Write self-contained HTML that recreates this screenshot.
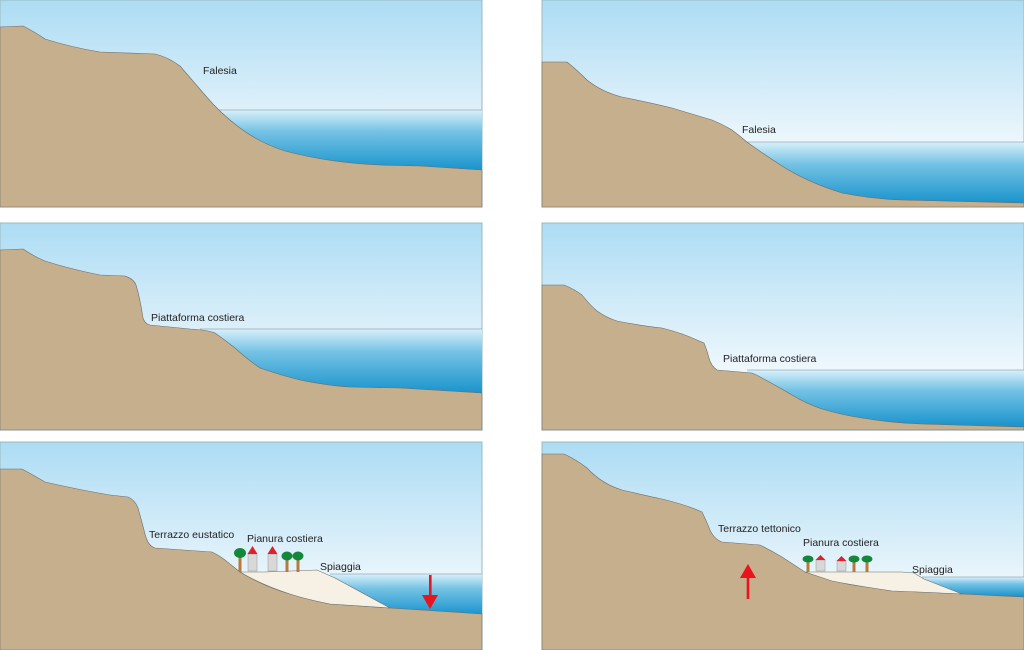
<!DOCTYPE html>
<html><head><meta charset="utf-8"><style>
html,body{margin:0;padding:0;background:#fff;width:1024px;height:650px;overflow:hidden}
svg{display:block}
text{font-family:"Liberation Sans",sans-serif;font-size:10.5px;fill:#222}
</style></head><body>
<svg width="1024" height="650" viewBox="0 0 1024 650" xmlns="http://www.w3.org/2000/svg">
<defs>
<linearGradient id="sky" x1="0" y1="0" x2="0" y2="1">
<stop offset="0" stop-color="#acdcf4"/><stop offset="0.7" stop-color="#eef7fc"/><stop offset="1" stop-color="#ffffff"/></linearGradient>
<linearGradient id="sea" x1="0" y1="0" x2="0" y2="1">
<stop offset="0" stop-color="#d8f0fa"/><stop offset="0.35" stop-color="#74c2e4"/><stop offset="1" stop-color="#1592cc"/></linearGradient>
</defs>
<g id="p1">
<rect x="0" y="0" width="482" height="207" fill="url(#sky)" stroke="#9bb" stroke-width="1"/>
<rect x="205" y="110" width="277" height="62" fill="url(#sea)"/>
<line x1="205" y1="110" x2="482" y2="110" stroke="#789" stroke-width="0.6"/>
<path d="M0,27 L23,26 Q35,32 45,39 Q70,47 100,52 L155,54 Q168,57 180,66 Q192,80 205,95 Q220,113 240,128 Q260,143 285,151 Q330,163 380,165 L420,166 L482,170 L482,207 L0,207Z" fill="#c5af8c" stroke="#6d6d6d" stroke-width="0.6"/>
<text x="203" y="74">Falesia</text>
</g>
<g transform="translate(542,0)">
<rect x="0" y="0" width="482" height="207" fill="url(#sky)" stroke="#9bb" stroke-width="1"/>
<rect x="200" y="142" width="282" height="63" fill="url(#sea)"/>
<line x1="200" y1="142" x2="482" y2="142" stroke="#789" stroke-width="0.6"/>
<path d="M0,62 L25,62 Q35,70 45,80 Q60,92 80,97 Q110,103 130,108 L170,120 Q180,124 190,130 Q198,136 205,142 Q220,153 240,166 Q265,182 300,193 Q330,199 360,200 L482,203 L482,207 L0,207Z" fill="#c5af8c" stroke="#6d6d6d" stroke-width="0.6"/>
<text x="200" y="133">Falesia</text>
</g>
<g transform="translate(0,223)">
<rect x="0" y="0" width="482" height="207" fill="url(#sky)" stroke="#9bb" stroke-width="1"/>
<rect x="200" y="106" width="282" height="66" fill="url(#sea)"/>
<line x1="200" y1="106" x2="482" y2="106" stroke="#789" stroke-width="0.6"/>
<path d="M0,27 L23,26 Q35,34 45,38 Q70,46 100,52 L125,53 Q134,56 136,62 Q140,75 143,95 Q145,101 150,102 L190,106 Q208,107 215,110 Q225,117 235,125 Q248,137 260,145 Q280,152 300,157 Q330,163 350,164 L400,165 L482,170 L482,207 L0,207Z" fill="#c5af8c" stroke="#6d6d6d" stroke-width="0.6"/>
<text x="151" y="98">Piattaforma costiera</text>
</g>
<g transform="translate(542,223)">
<rect x="0" y="0" width="482" height="207" fill="url(#sky)" stroke="#9bb" stroke-width="1"/>
<rect x="205" y="147" width="277" height="58" fill="url(#sea)"/>
<line x1="205" y1="147" x2="482" y2="147" stroke="#789" stroke-width="0.6"/>
<path d="M0,62 L22,62 Q32,66 40,72 Q48,82 55,88 Q65,95 75,98 Q100,103 120,105 Q140,110 155,117 L162,120 Q165,127 167,135 Q169,143 175,147 L210,150 Q215,152 220,155 Q235,163 250,172 Q265,181 280,186 Q300,192 320,195 Q350,200 380,201 L482,204 L482,207 L0,207Z" fill="#c5af8c" stroke="#6d6d6d" stroke-width="0.6"/>
<text x="181" y="139">Piattaforma costiera</text>
</g>
<g transform="translate(0,442)">
<rect x="0" y="0" width="482" height="208" fill="url(#sky)" stroke="#9bb" stroke-width="1"/>
<rect x="330" y="132" width="152" height="42" fill="url(#sea)"/>
<line x1="330" y1="132" x2="482" y2="132" stroke="#789" stroke-width="0.6"/>
<path d="M0,27 L22,27 Q35,34 45,40 Q80,48 110,53 L128,55 Q135,58 138,66 Q142,80 145,92 Q148,104 155,106 L212,110 Q220,114 225,118 L240,130 Q265,145 290,152 Q310,158 330,162 L390,166 L482,172 L482,208 L0,208Z" fill="#c5af8c" stroke="#6d6d6d" stroke-width="0.6"/>
<path d="M240,130 L265,130 L317,128 L335,136 L390,166 L330,162 Q305,157 290,152 Q262,143 240,130Z" fill="#f6f1e4" stroke="#6d6d6d" stroke-width="0.6"/>
<g fill="#b77a3a"><rect x="238.5" y="115" width="3" height="15"/><rect x="285.5" y="117" width="3" height="13"/><rect x="296.5" y="117" width="3" height="13"/></g>
<g fill="#13883a"><ellipse cx="240" cy="111" rx="6" ry="5"/><ellipse cx="287" cy="114" rx="5.5" ry="4.5"/><ellipse cx="298" cy="114" rx="5.5" ry="4.5"/></g>
<g fill="#d8d8d8" stroke="#999" stroke-width="0.5"><rect x="248" y="112" width="9" height="17"/><rect x="268" y="112" width="9" height="17"/></g>
<g fill="#e0202a"><polygon points="247.5,112 252.5,104 257.5,112"/><polygon points="267.5,112 272.5,104 277.5,112"/></g>
<text x="149" y="96">Terrazzo eustatico</text>
<text x="247" y="100">Pianura costiera</text>
<text x="320" y="128">Spiaggia</text>
<rect x="429" y="133" width="2.6" height="22" fill="#e8141e"/>
<polygon points="422,153 438,153 430,167" fill="#e8141e"/>
</g>
<g transform="translate(542,442)">
<rect x="0" y="0" width="482" height="208" fill="url(#sky)" stroke="#9bb" stroke-width="1"/>
<rect x="380" y="135" width="102" height="20" fill="url(#sea)"/>
<line x1="380" y1="135" x2="482" y2="135" stroke="#789" stroke-width="0.6"/>
<path d="M0,12 L22,12 Q35,18 45,26 Q60,42 80,48 Q110,55 120,57 Q145,63 160,70 Q164,78 168,88 Q172,97 180,100 L218,103 Q230,109 240,115 L263,130 Q290,139 310,143 Q350,149 380,150 L420,152 L482,155 L482,208 L0,208Z" fill="#c5af8c" stroke="#6d6d6d" stroke-width="0.6"/>
<path d="M263,130 L360,130 L372,131 L382,137 L420,152 Q380,150 350,149 Q310,143 290,139Z" fill="#f6f1e4" stroke="#6d6d6d" stroke-width="0.6"/>
<g fill="#b77a3a"><rect x="264.5" y="119" width="3" height="11"/><rect x="310.5" y="119" width="3" height="11"/><rect x="323.5" y="119" width="3" height="11"/></g>
<g fill="#13883a"><ellipse cx="266" cy="117" rx="5.5" ry="3.5"/><ellipse cx="312" cy="117" rx="5.5" ry="3.5"/><ellipse cx="325" cy="117" rx="5.5" ry="3.5"/></g>
<g fill="#d8d8d8" stroke="#999" stroke-width="0.5"><rect x="274" y="118" width="9" height="11"/><rect x="295" y="119" width="9" height="10"/></g>
<g fill="#e0202a"><polygon points="273.5,118 278.5,113 283.5,118"/><polygon points="294.5,119 299.5,114 304.5,119"/></g>
<text x="176" y="90">Terrazzo tettonico</text>
<text x="261" y="104">Pianura costiera</text>
<text x="370" y="131">Spiaggia</text>
<rect x="204.7" y="133" width="2.6" height="24" fill="#e8141e"/>
<polygon points="198,136 214,136 206,122" fill="#e8141e"/>
</g>
</svg>
</body></html>
